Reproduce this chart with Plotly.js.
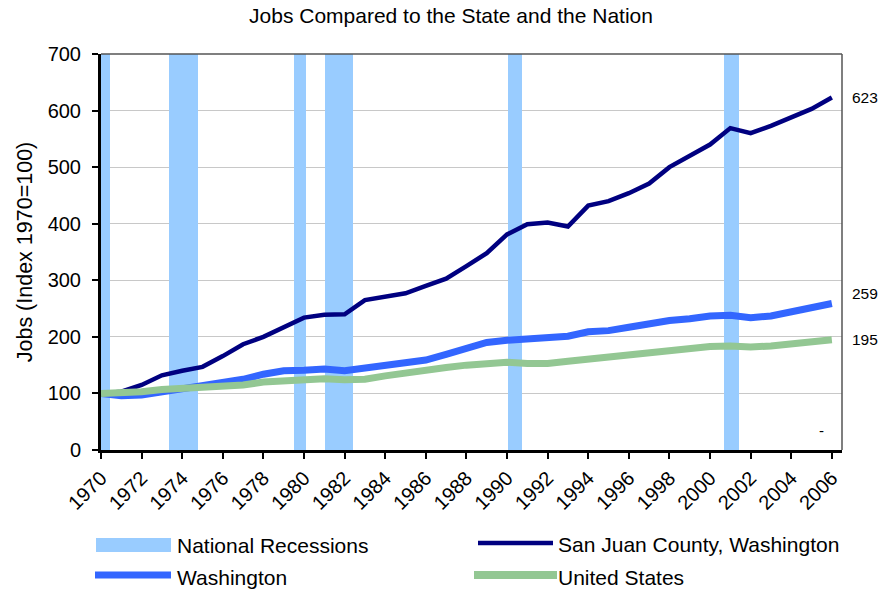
<!DOCTYPE html>
<html>
<head>
<meta charset="utf-8">
<script src="https://cdn.plot.ly/plotly-3.0.1.min.js"></script>
<style>
  html, body { margin: 0; padding: 0; background: #ffffff; }
  #chart { width: 882px; height: 590px; }
</style>
</head>
<body>
<div id="chart"></div>
<script>
// ---------------- data ----------------
const years = [1970,1971,1972,1973,1974,1975,1976,1977,1978,1979,1980,1981,1982,1983,1984,1985,1986,1987,1988,
               1989,1990,1991,1992,1993,1994,1995,1996,1997,1998,1999,2000,2001,2002,2003,2004,2005,2006];
const sanJuan = [100,103,115,132,140,147,166,187,200,217,234,239,240,265,272,277,290,303,325,
                 348,381,399,402,395,432,440,454,471,500,520,540,569,560,573,587,603,623];
const washington = [100,96,97,103,109,112,118,125,134,140,141,143,140,144,149,154,159,169,180,
                    190,194,196,199,201,209,211,217,224,229,232,237,238,234,237,245,252,259];
const unitedStates = [100,100,103,107,109,109,112,115,120,123,124,126,124,125,131,137,141,146,150,
                      153,155,153,153,157,161,165,169,173,178,181,183,184,182,184,187,191,195];
const recessionStart = [1970.0, 1973.37, 1979.53, 1981.01, 1990.05, 2000.69];
const recessionEnd   = [1970.45, 1974.78, 1980.11, 1982.43, 1990.76, 2001.41];
const recessionTop = 700;
const tickYears = [1970,1972,1974,1976,1978,1980,1982,1984,1986,1988,1990,1992,1994,1996,1998,2000,2002,2004,2006];
const tickText = tickYears.map(String);
const yTicks = [0,100,200,300,400,500,600,700];
const endLabels = ["623", "259", "195"];
const endLabelY = [623, 276, 195];
const seriesNames = ["National Recessions", "San Juan County, Washington", "Washington", "United States"];

// ---------------- styles ----------------
const FONT = '"Liberation Sans", Arial, Helvetica, sans-serif';
const C_REC = '#99CCFF', C_SJ = '#000080', C_WA = '#3366FF', C_US = '#93C793';

// plot-area geometry (pixels)
const L = 101, R = 842, T = 54, B = 450, W = 882, H = 590;
const px = x => (x - L) / (R - L);
const py = y => (B - y) / (B - T);

const recCenters = recessionStart.map((s, i) => (s + recessionEnd[i]) / 2);
const recWidths = recessionStart.map((s, i) => recessionEnd[i] - s);

const traces = [
  { type: 'bar', name: seriesNames[0], x: recCenters, y: recessionStart.map(() => recessionTop),
    width: recWidths, base: 0, marker: { color: C_REC, line: { width: 0 } }, hoverinfo: 'skip' },
  { type: 'scatter', mode: 'lines', name: seriesNames[1], x: years, y: sanJuan,
    line: { color: C_SJ, width: 4.5 } },
  { type: 'scatter', mode: 'lines', name: seriesNames[2], x: years, y: washington,
    line: { color: C_WA, width: 7 } },
  { type: 'scatter', mode: 'lines', name: seriesNames[3], x: years, y: unitedStates,
    line: { color: C_US, width: 7 } }
];

const shapes = [
  // top and right frame
  { type: 'line', xref: 'paper', yref: 'paper', x0: 0, x1: 1, y0: 1, y1: 1, line: { color: '#555555', width: 1.5 } },
  { type: 'line', xref: 'paper', yref: 'paper', x0: 1, x1: 1, y0: 0, y1: 1, line: { color: '#555555', width: 1.5 } },
  // legend swatches
  { type: 'rect', xref: 'paper', yref: 'paper', x0: px(96), x1: px(171), y0: py(552), y1: py(538),
    fillcolor: C_REC, line: { width: 0 } },
  { type: 'line', xref: 'paper', yref: 'paper', x0: px(478), x1: px(553), y0: py(543), y1: py(543),
    line: { color: C_SJ, width: 4.5 } },
  { type: 'line', xref: 'paper', yref: 'paper', x0: px(95), x1: px(171), y0: py(575), y1: py(575),
    line: { color: C_WA, width: 7 } },
  { type: 'rect', xref: 'paper', yref: 'paper', x0: px(474), x1: px(557), y0: py(579), y1: py(571),
    fillcolor: C_US, line: { width: 0 } }
];

const annFont = { family: FONT, size: 21, color: '#000000' };
const annotations = [
  { xref: 'paper', yref: 'paper', x: px(175), y: py(545), xanchor: 'left', yanchor: 'middle', text: seriesNames[0], showarrow: false, font: annFont },
  { xref: 'paper', yref: 'paper', x: px(556), y: py(544), xanchor: 'left', yanchor: 'middle', text: seriesNames[1], showarrow: false, font: annFont },
  { xref: 'paper', yref: 'paper', x: px(175), y: py(577), xanchor: 'left', yanchor: 'middle', text: seriesNames[2], showarrow: false, font: annFont },
  { xref: 'paper', yref: 'paper', x: px(556), y: py(577), xanchor: 'left', yanchor: 'middle', text: seriesNames[3], showarrow: false, font: annFont },
  { xref: 'x', yref: 'y', x: 2005.5, y: 34, text: '-', showarrow: false, xanchor: 'center', yanchor: 'middle',
    font: { family: FONT, size: 15, color: '#000000' } }
];
endLabels.forEach((t, i) => annotations.push({
  xref: 'paper', yref: 'y', x: 1, xshift: 8, y: endLabelY[i], text: t, showarrow: false,
  xanchor: 'left', yanchor: 'middle', font: { family: FONT, size: 15.5, color: '#000000' }
}));

const layout = {
  width: W, height: H,
  margin: { l: L, r: W - R, t: T, b: H - B, pad: 0 },
  paper_bgcolor: '#ffffff', plot_bgcolor: '#ffffff',
  showlegend: false,
  bargap: 0,
  font: { family: FONT, size: 20, color: '#000000' },
  title: { text: 'Jobs Compared to the State and the Nation', xref: 'container', x: 451 / W, xanchor: 'center',
           yref: 'container', y: 1 - 16 / H, yanchor: 'middle', font: { family: FONT, size: 21, color: '#000000' } },
  xaxis: {
    range: [1970, 2006.5], tickmode: 'array', tickvals: tickYears, ticktext: tickText, tickangle: -45,
    ticks: 'outside', ticklen: 6, tickwidth: 2, tickcolor: '#000000',
    showline: true, linecolor: '#000000', linewidth: 2.5, showgrid: false, zeroline: false,
    tickfont: { family: FONT, size: 20, color: '#000000' }, automargin: false, fixedrange: true
  },
  yaxis: {
    range: [0, 700], tickmode: 'array', tickvals: yTicks,
    ticks: 'outside', ticklen: 6, tickwidth: 2, tickcolor: '#000000', ticklabelstandoff: 7,
    showline: true, linecolor: '#000000', linewidth: 3, showgrid: true, gridcolor: '#C8C8C8', gridwidth: 1,
    zeroline: false, tickfont: { family: FONT, size: 20, color: '#000000' },
    title: { text: 'Jobs (Index 1970=100)', font: { family: FONT, size: 21.5, color: '#000000' }, standoff: 10 },
    automargin: false, fixedrange: true
  },
  shapes: shapes,
  annotations: annotations
};

Plotly.newPlot('chart', traces, layout, { staticPlot: true, displayModeBar: false });
</script>
</body>
</html>
